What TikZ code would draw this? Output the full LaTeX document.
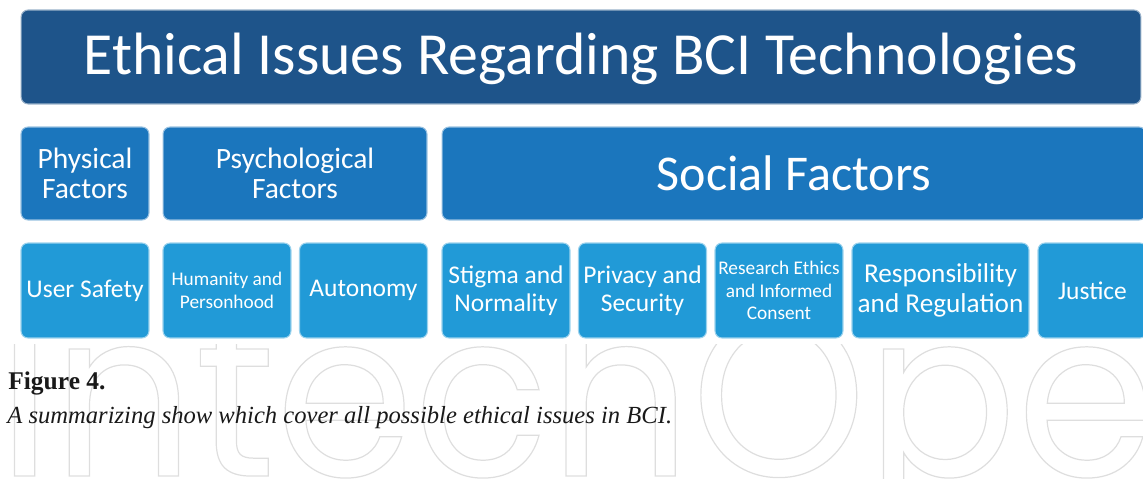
\documentclass[tikz,border=0pt]{standalone}
\usepackage{fontspec}
\setmainfont{Liberation Serif}
\setsansfont{Carlito}
\newfontfamily\wmfont{Poppins}
\definecolor{titleblue}{RGB}{30,84,138}
\definecolor{groupblue}{RGB}{27,118,189}
\definecolor{issueblue}{RGB}{33,154,215}
% outlined text for the watermark
\newcommand{\outlinetext}[1]{\special{pdf:code q 1 Tr 0.7 w 0.87 G}#1\special{pdf:code Q}}

\begin{document}
\begin{tikzpicture}[x=0.02cm,y=-0.02cm,
  box/.style={rounded corners=4pt,fill=#1,draw=white!55!#1,line width=0.6pt,text=white,align=center,inner sep=0pt},
  title node/.style={box=titleblue,minimum width=22.4cm,minimum height=1.88cm,text height=0.72cm,text depth=0pt,font=\sffamily\fontsize{34}{36}\selectfont},
  group node/.style={box=groupblue,minimum height=1.86cm,font=\sffamily\fontsize{16.8}{17}\selectfont},
  issue node/.style={box=issueblue,minimum width=2.56cm,minimum height=1.9cm,font=\sffamily\fontsize{14.5}{16}\selectfont},
  small issue/.style={issue node,font=\sffamily\fontsize{11}{13}\selectfont},
  caption/.style={anchor=base west,inner sep=0pt,text=black!90}]

  \useasboundingbox (0,0) rectangle (1143,479);
  \clip (0,0) rectangle (1143,479);

  % watermark behind the caption
  \begin{scope}
    \clip (0,345) rectangle (1143,479);
    \node[anchor=base west,inner sep=0pt,xscale=0.96,transform shape,font=\wmfont\fontsize{132}{132}\selectfont] (0) at (-3,476)
      {\outlinetext{IntechOpen}};
  \end{scope}

  \node[title node] (1) at (581,57) {Ethical Issues Regarding BCI Technologies};

  \node[group node,minimum width=2.56cm] (2) at (85,173.5) {Physical\\Factors};
  \node[group node,minimum width=5.28cm] (3) at (295,173.5) {Psychological\\Factors};
  \node[group node,minimum width=14.08cm,font=\sffamily\fontsize{28.5}{30}\selectfont] (4) at (794,173.5) {Social Factors};

  \node[issue node] (5) at (85,290.5) {User Safety};
  \node[small issue] (6) at (227,290.5) {Humanity and\\Personhood};
  \node[issue node] (7) at (363.5,290.5) {Autonomy};
  \node[issue node] (8) at (506,290.5) {Stigma and\\Normality};
  \node[issue node] (9) at (642.5,290.5) {Privacy and\\Security};
  \node[small issue] (10) at (779,290.5) {Research Ethics\\and Informed\\Consent};
  \node[issue node,minimum width=3.54cm,font=\sffamily\fontsize{15.5}{17}\selectfont] (11) at (940.5,290.5) {Responsibility\\and Regulation};
  \node[issue node,minimum width=2.18cm] (12) at (1092.5,290.5) {Justice};

  \node[caption,font=\bfseries\fontsize{14.5}{16}\selectfont] (13) at (8,390) {Figure 4.};
  \node[caption,font=\itshape\fontsize{14}{16}\selectfont] (14) at (7,424) {A summarizing show which cover all possible ethical issues in BCI.};
\end{tikzpicture}
\end{document}
